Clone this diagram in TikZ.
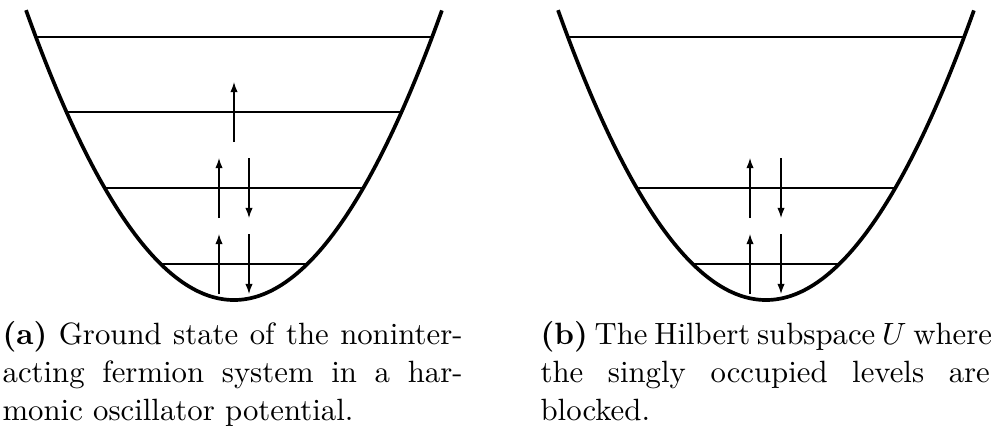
\documentclass[tikz,border=0pt]{standalone}
\usetikzlibrary{arrows.meta}
\newcommand{\capline}[2]{\hbox to #1{#2}}
\begin{document}
\begin{tikzpicture}[x=0.325pt,y=-0.325pt,
  well/.style={line width=1.2pt,line join=round},
  levelline/.style={line width=0.7pt},
  spin/.style={line width=0.4pt,-{Latex[length=3.3pt,width=2.4pt]}},
  capt/.style={anchor=base west,inner sep=0pt,align=left,
    font=\fontsize{10}{12.2}\selectfont}]
\useasboundingbox (0,0) rectangle (992,430);
% ---------- panel (a)
\begin{scope}[shift={(234,0)}]
  \draw[well] plot[domain=-2.08:2.08,samples=81,smooth] ({100*\x},{300-67*\x*\x});
  \draw[levelline] (-73.3,264) -- (73.3,264);
  \draw[levelline] (-129.3,188) -- (129.3,188);
  \draw[levelline] (-167.5,112) -- (167.5,112);
  \draw[levelline] (-198.1,37) -- (198.1,37);
  \draw[spin] (-15,294) -- (-15,234);
  \draw[spin] (15,234) -- (15,294);
  \draw[spin] (-15,218) -- (-15,158);
  \draw[spin] (15,158) -- (15,218);
  \draw[spin] (0,142) -- (0,82);
\end{scope}
% ---------- panel (b)
\begin{scope}[shift={(766,0)}]
  \draw[well] plot[domain=-2.08:2.08,samples=81,smooth] ({100*\x},{300-67*\x*\x});
  \draw[levelline] (-73.3,264) -- (73.3,264);
  \draw[levelline] (-129.3,188) -- (129.3,188);
  \draw[levelline] (-198.1,37) -- (198.1,37);
  \draw[spin] (-16,294) -- (-16,234);
  \draw[spin] (15,234) -- (15,294);
  \draw[spin] (-16,218) -- (-16,158);
  \draw[spin] (15,158) -- (15,218);
\end{scope}
% ---------- captions (anchor = baseline of the last line)
\node[capt] (capa) at (2,420)
  {\capline{149.5pt}{\textbf{(a)} Ground state of the noninter-}\\
   \capline{149.5pt}{acting fermion system in a har-}\\
   monic oscillator potential.};
\node[capt] (capb) at (540,420)
  {\capline{146pt}{\textbf{(b)} The Hilbert subspace $U$ where}\\
   \capline{146pt}{the singly occupied levels are}\\
   blocked.};
\end{tikzpicture}
\end{document}
